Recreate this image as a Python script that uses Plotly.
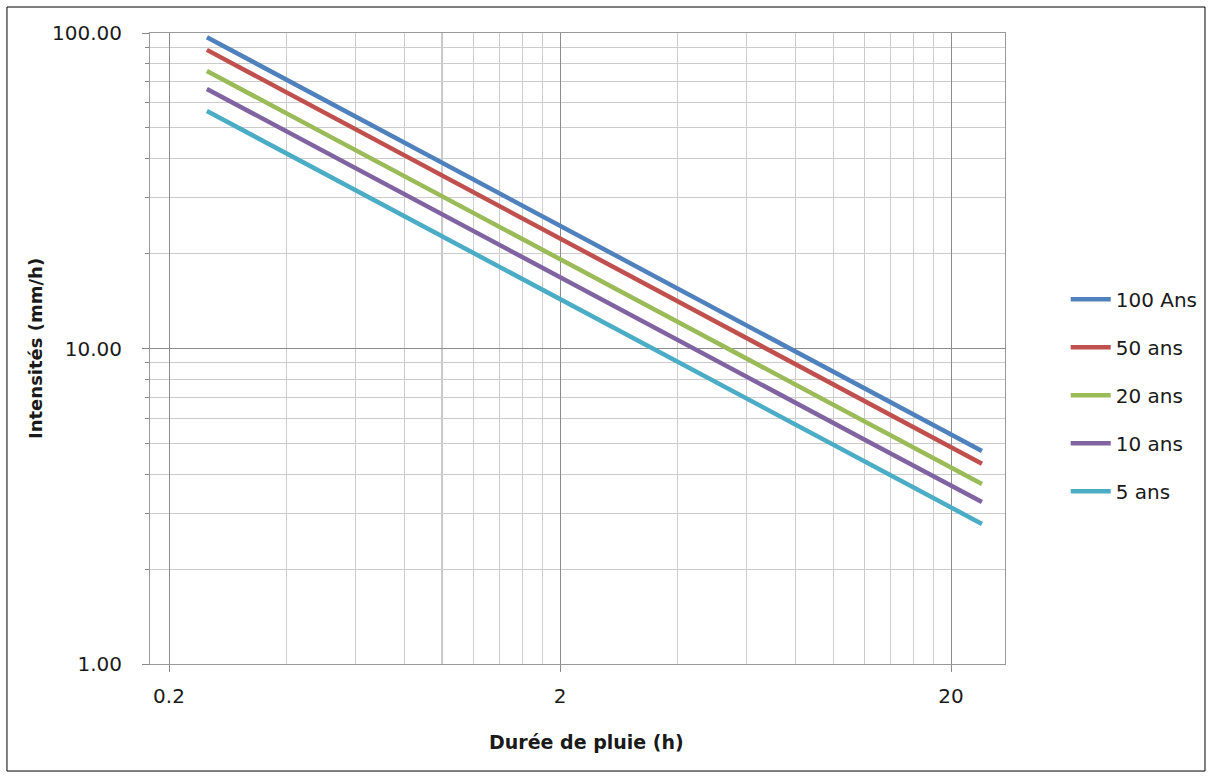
import plotly.graph_objects as go

# ---- data ----
durations = [0.25, 0.5, 1, 2, 3, 6, 12, 24]
series_names = ["100 Ans", "50 ans", "20 ans", "10 ans", "5 ans"]
i_100 = [97.0, 61.3, 38.8, 24.5, 18.7, 11.8, 7.48, 4.73]
i_50 = [88.4, 55.9, 35.3, 22.3, 17.1, 10.8, 6.82, 4.31]
i_20 = [75.8, 47.9, 30.3, 19.2, 14.7, 9.30, 5.88, 3.72]
i_10 = [66.5, 42.0, 26.6, 16.8, 12.9, 8.15, 5.15, 3.26]
i_5 = [56.6, 35.8, 22.6, 14.3, 10.95, 6.93, 4.39, 2.78]
series_values = [i_100, i_50, i_20, i_10, i_5]
colors = ["#4F81BD", "#C0504D", "#9BBB59", "#8064A2", "#4BACC6"]

x_major = [0.2, 2, 20]
x_major_text = ["0.2", "2", "20"]
x_minor = [0.4, 0.6, 0.8, 1.0, 1.2, 1.4, 1.6, 1.8,
           4, 6, 8, 10, 12, 14, 16, 18]
y_major = [1, 10, 100]
y_major_text = ["1.00", "10.00", "100.00"]
y_minor = [2, 3, 4, 5, 6, 7, 8, 9, 20, 30, 40, 50, 60, 70, 80, 90]
x_cross = 1  # vertical axis crosses the horizontal axis at x = 1

x_title = "Durée de pluie (h)"
y_title = "Intensités (mm/h)"

FONT = "DejaVu Sans"
TXT = "#1a1a1a"

fig = go.Figure()
for name, vals, col in zip(series_names, series_values, colors):
    fig.add_trace(go.Scatter(
        x=durations, y=vals, name=name, mode="lines",
        line=dict(color=col, width=4.5), legendgroup=name,
    ))

fig.update_layout(
    width=1212, height=778,
    margin=dict(l=150, r=207, t=33, b=114, autoexpand=False),
    paper_bgcolor="white", plot_bgcolor="white",
    font=dict(family=FONT, size=20, color=TXT),
    showlegend=True,
    legend=dict(
        x=1.071, xanchor="left", y=0.609, yanchor="top",
        font=dict(family=FONT, size=20, color=TXT),
        tracegroupgap=19, traceorder="grouped",
        bgcolor="rgba(0,0,0,0)", itemwidth=40,
    ),
)

fig.update_xaxes(
    type="log",
    range=[-0.74756, 1.43913],
    tickmode="array", tickvals=x_major, ticktext=x_major_text,
    ticks="outside", ticklen=7, tickcolor="#888888",
    showgrid=True, gridcolor="#8c8c8c", gridwidth=1,
    minor=dict(tickmode="array", tickvals=x_minor, showgrid=True,
               gridcolor="#cccccc", gridwidth=1, ticks=""),
    showline=True, linecolor="#999999", linewidth=1, mirror=True,
    zeroline=False,
    ticklabelstandoff=7,
    tickfont=dict(family=FONT, size=20, color=TXT),
)
fig.update_yaxes(
    type="log",
    range=[0, 2],
    tickmode="array", tickvals=y_major, ticktext=y_major_text,
    ticks="outside", ticklen=7, tickcolor="#888888",
    showgrid=True, gridcolor="#8c8c8c", gridwidth=1,
    minor=dict(tickmode="array", tickvals=y_minor, showgrid=True,
               gridcolor="#cccccc", gridwidth=1, ticks="outside",
               ticklen=4, tickcolor="#888888"),
    showline=True, linecolor="#999999", linewidth=1, mirror=True,
    zeroline=False,
    ticklabelstandoff=16,
    tickfont=dict(family=FONT, size=20, color=TXT),
)

# axis titles
fig.add_annotation(text="<b>" + x_title + "</b>", xref="paper", yref="paper",
                   x=0.511, y=-0.1236, xanchor="center", yanchor="middle",
                   showarrow=False, font=dict(family=FONT, size=19, color=TXT))
fig.add_annotation(text="<b>" + y_title + "</b>", xref="paper", yref="paper",
                   x=-0.1345, y=0.4992, xanchor="center", yanchor="middle",
                   textangle=-90, showarrow=False,
                   font=dict(family=FONT, size=18, color=TXT))

# axis line where the vertical axis crosses (x = 1)
fig.add_shape(type="line", xref="x", yref="paper",
              x0=x_cross, x1=x_cross, y0=0, y1=1,
              line=dict(color="#8c8c8c", width=1.5), layer="below")

# outer chart border
fig.add_shape(type="rect", xref="paper", yref="paper",
              x0=-0.1673, x1=1.2339, y0=-0.1696, y1=1.0412,
              line=dict(color="#000000", width=1))

fig.write_html("out.html", config={"displayModeBar": False},
               post_script="document.body.style.margin='0';")
